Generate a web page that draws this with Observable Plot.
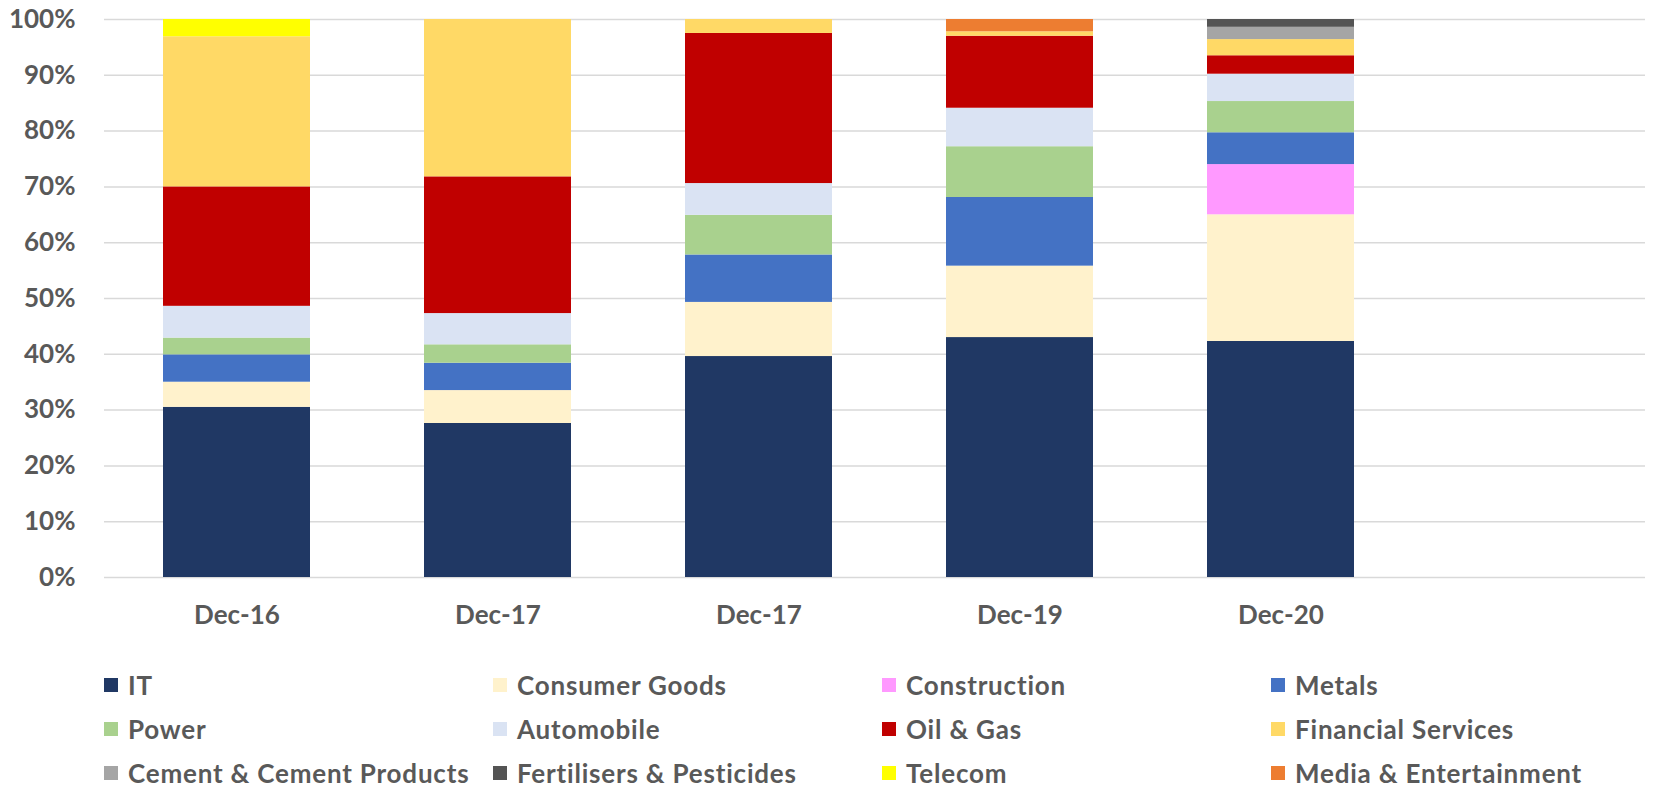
<!DOCTYPE html>
<html>
<head>
<meta charset="utf-8">
<script src="https://cdn.jsdelivr.net/npm/d3@7"></script>
<script src="https://cdn.jsdelivr.net/npm/@observablehq/plot@0.6"></script>
<style>
  html, body { margin: 0; padding: 0; background: #fff; overflow: hidden; }
  #legend { display: grid; grid-template-columns: repeat(4, 389px); padding-left: 104px; margin-top: -1px;
            font-family: Lato, "Open Sans", sans-serif; font-weight: bold; font-size: 26px; line-height: 26px;
            letter-spacing: 0.8px; color: #595959; }
  .item { display: flex; align-items: center; height: 44px; white-space: nowrap; }
  .sw { width: 14px; height: 14px; margin-right: 10px; flex: none; }
</style>
</head>
<body>
<div id="chart"></div>
<div id="legend"></div>
<script>
const categories = ["Dec-16", "Dec-17", "Dec-17", "Dec-19", "Dec-20"];
const sectors = ["IT", "Consumer Goods", "Construction", "Metals", "Power", "Automobile",
  "Oil & Gas", "Financial Services", "Cement & Cement Products", "Fertilisers & Pesticides",
  "Telecom", "Media & Entertainment"];
const colors = ["#203864", "#FFF2CC", "#FF99FF", "#4472C4", "#A9D18E", "#DAE3F3",
  "#C00000", "#FFD966", "#A5A5A5", "#545454", "#FFFF00", "#ED7D31"];

// share (%) per category, one array per sector
const it            = [30.5, 27.6, 39.6, 43.0, 42.3];
const consumerGoods = [4.5, 5.9, 9.7, 12.8, 22.7];
const construction  = [0, 0, 0, 0, 9.0];
const metals        = [4.9, 4.9, 8.5, 12.3, 5.7];
const power         = [3.0, 3.3, 7.1, 9.1, 5.6];
const automobile    = [5.7, 5.6, 5.7, 6.9, 4.9];
const oilGas        = [21.4, 24.5, 26.9, 12.9, 3.3];
const financial     = [26.9, 28.2, 2.5, 0.8, 2.9];
const cement        = [0, 0, 0, 0, 2.2];
const fertilisers   = [0, 0, 0, 0, 1.4];
const telecom       = [3.1, 0, 0, 0, 0];
const media         = [0, 0, 0, 2.2, 0];
const yTicks = [0, 0.1, 0.2, 0.3, 0.4, 0.5, 0.6, 0.7, 0.8, 0.9, 1.0];

const series = [it, consumerGoods, construction, metals, power, automobile,
  oilGas, financial, cement, fertilisers, telecom, media];

const table = [];
series.forEach((vals, s) => vals.forEach((v, i) => table.push({x: i, sector: sectors[s], value: v / 100})));

const chart = Plot.plot({
  width: 1675,
  height: 664,
  marginLeft: 104,
  marginRight: 30,
  marginTop: 19,
  marginBottom: 87,
  style: {fontFamily: "Lato, 'Open Sans', sans-serif", fontWeight: "bold", fontSize: "26px", color: "#595959", background: "#fff"},
  x: {domain: d3.range(6), range: [104, 1674], paddingInner: 0.438, paddingOuter: 0.219, label: null,
      tickSize: 0, tickPadding: 28, tickFormat: i => categories[i] ?? ""},
  y: {domain: [0, 1], ticks: yTicks, tickFormat: d3.format(".0%"), label: null, tickSize: 0, tickPadding: 29},
  color: {domain: sectors, range: colors},
  marks: [
    Plot.ruleY(yTicks, {stroke: "#D9D9D9", strokeWidth: 1.5}),
    Plot.barY(table, {x: "x", y: "value", z: "sector", fill: "sector"})
  ]
});
document.getElementById("chart").appendChild(chart);

const legend = document.getElementById("legend");
sectors.forEach((s, k) => {
  const item = document.createElement("div");
  item.className = "item";
  const sw = document.createElement("span");
  sw.className = "sw";
  sw.style.background = colors[k];
  item.appendChild(sw);
  item.appendChild(document.createTextNode(s));
  legend.appendChild(item);
});
</script>
</body>
</html>
